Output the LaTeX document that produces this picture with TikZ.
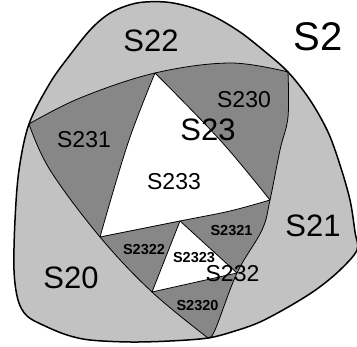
\documentclass[tikz,border=0pt]{standalone}
\usepackage{fontspec}
\setmainfont{Liberation Sans}
\begin{document}
\begin{tikzpicture}[x=1pt,y=-1pt,
  lightfill/.style={fill=black!24},
  darkfill/.style={fill=black!47},
  whitefill/.style={fill=white},
  outerline/.style={draw=black,line width=1.5pt,line join=round},
  innerline/.style={draw=black,line width=0.8pt,line join=round},
  huge/.style={inner sep=0pt,font=\fontsize{40}{40}\selectfont},
  big/.style={inner sep=0pt,font=\fontsize{31}{31}\selectfont},
  mid/.style={inner sep=0pt,font=\fontsize{23}{23}\selectfont},
  small/.style={inner sep=0pt,font=\bfseries\fontsize{14.5}{14.5}\selectfont}]
\useasboundingbox (0,0) rectangle (357,347);
\fill[white] (0,0) rectangle (357,347);
\clip (0,0) rectangle (357,347);
\coordinate (L) at (29,124);
\coordinate (T) at (288,72);
\coordinate (B) at (208,338);
\coordinate (M1) at (155,73);
\coordinate (M2) at (270,200);
\coordinate (M3) at (100,237);
\coordinate (P1) at (180,221);
\coordinate (P2) at (237,273);
\coordinate (P3) at (152,292);
% outer region S2
\fill[lightfill] plot[smooth cycle,tension=0.55] coordinates {
 (27,316) (18,300) (14,270) (15,220) (19,170) (L) (50,83) (70,55) (92,28)
 (112,12) (137,3) (165,2) (190,7) (215,17) (240,32) (263,50) (T) (310,100)
 (328,132) (340,165) (350,200) (355,232) (357,250) (340,270) (317,289)
 (290,306) (260,322) (235,331) (B) (170,341) (130,342) (90,340) (67,335) (45,326)};
% S23
\filldraw[darkfill,innerline]
  plot[smooth,tension=0.6] coordinates {(L) (80,98) (M1) (230,63) (T)}
  -- plot[smooth,tension=0.6] coordinates {(T) (288,117) (280,150) (M2) (262,230) (P2) (215,330) (B)}
  -- plot[smooth,tension=0.6] coordinates {(B) (P3) (M3) (50,170) (L)} -- cycle;
% S233
\filldraw[whitefill,innerline]
  plot[smooth,tension=0.6] coordinates {(M1) (220,140) (M2)}
  -- plot[smooth,tension=0.6] coordinates {(M2) (230,211) (P1) (M3)}
  -- plot[smooth,tension=0.6] coordinates {(M3) (128,143) (M1)} -- cycle;
% S2323
\filldraw[whitefill,innerline] (P1) -- (P2) -- (P3) -- cycle;
% outer boundary on top
\draw[outerline] plot[smooth cycle,tension=0.55] coordinates {
 (27,316) (18,300) (14,270) (15,220) (19,170) (L) (50,83) (70,55) (92,28)
 (112,12) (137,3) (165,2) (190,7) (215,17) (240,32) (263,50) (T) (310,100)
 (328,132) (340,165) (350,200) (355,232) (357,250) (340,270) (317,289)
 (290,306) (260,322) (235,331) (B) (170,341) (130,342) (90,340) (67,335) (45,326)};
% labels
\node[huge] (s2) at (318,37) {S2};
\node[big] (s22) at (151,41) {S22};
\node[big] (s21) at (313,226) {S21};
\node[big] (s20) at (71,278) {S20};
\node[big] (s23) at (208,130) {S23};
\node[mid] (s231) at (84,140) {S231};
\node[mid] (s230) at (244,100) {S230};
\node[mid] (s233) at (174,182) {S233};
\node[mid] (s232) at (232.5,273.5) {S232};
\node[small] (s2321) at (231.5,230.5) {S2321};
\node[small] (s2322) at (144,250) {S2322};
\node[small] (s2323) at (194,257.5) {S2323};
\node[small] (s2320) at (197.5,306) {S2320};
\end{tikzpicture}
\end{document}
